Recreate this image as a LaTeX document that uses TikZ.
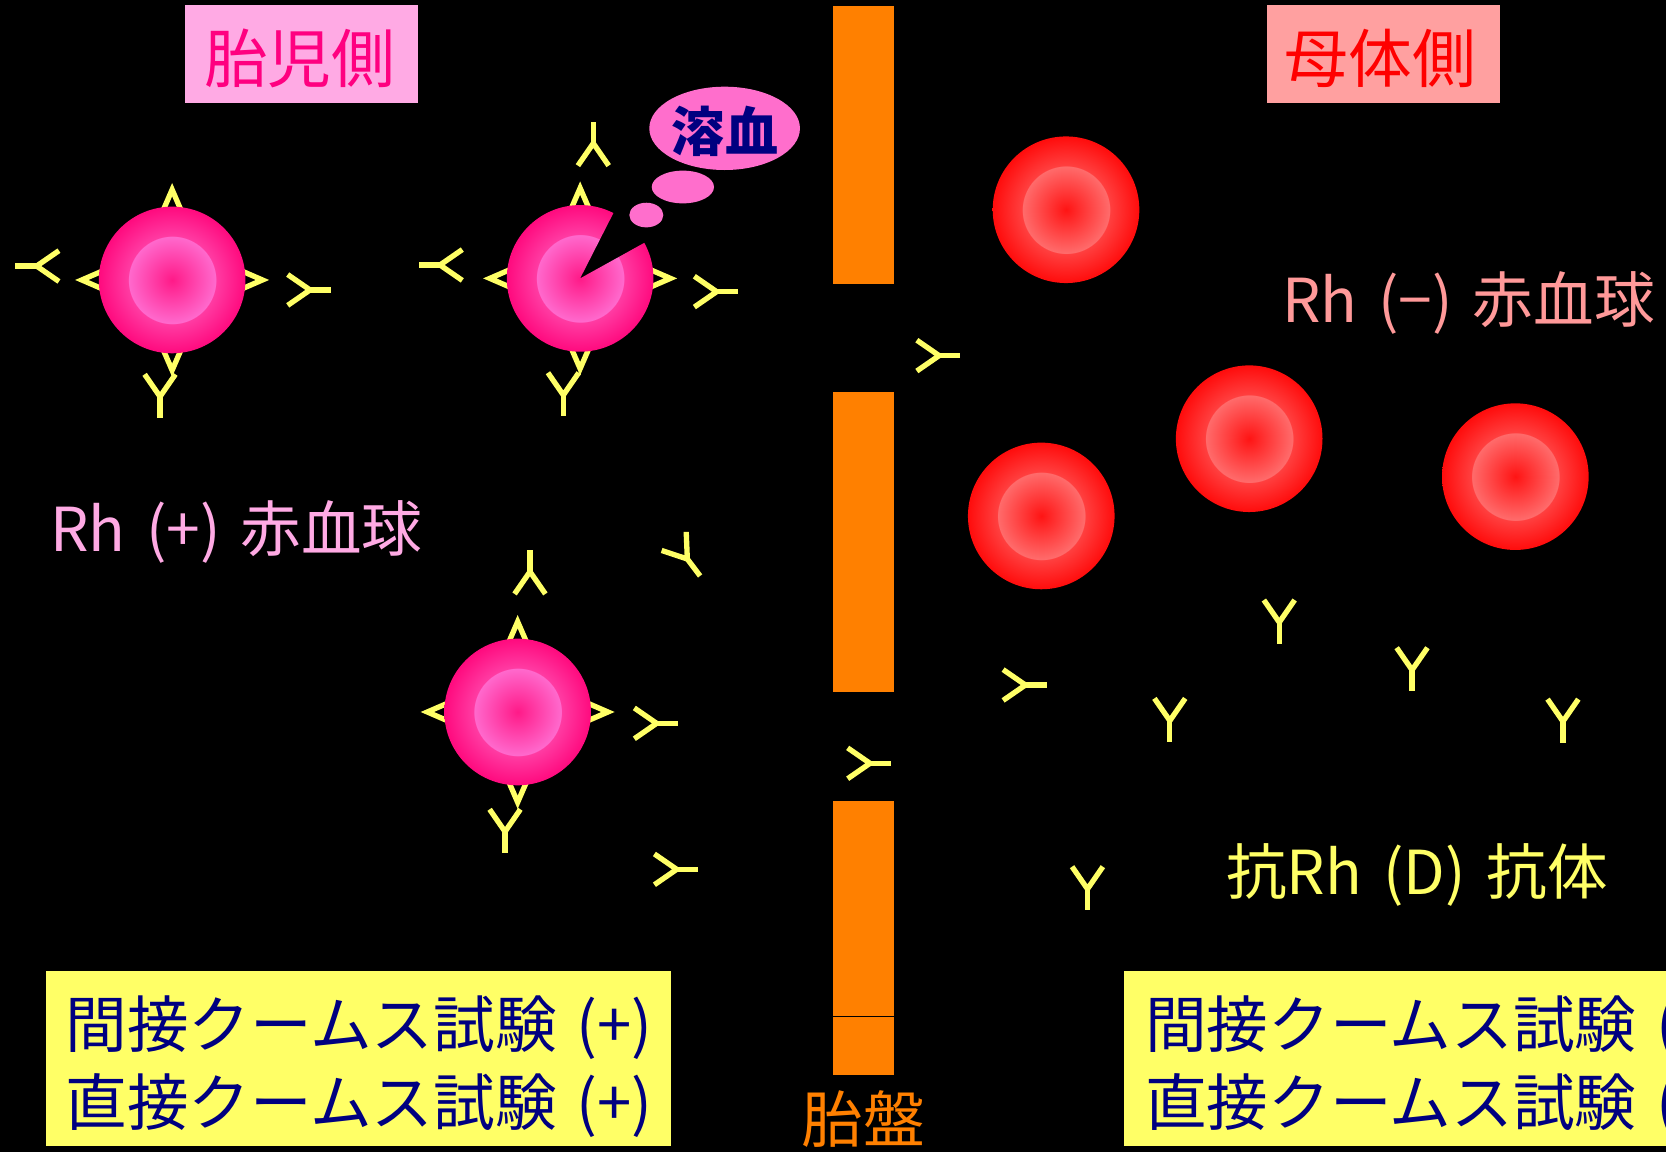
\documentclass[tikz,border=0pt]{standalone}
\usepackage{fontspec}
\setmainfont{Noto Sans CJK JP}

% palette
\definecolor{abyellow}{RGB}{255,255,102}
\definecolor{navyink}{RGB}{0,0,128}
\definecolor{placenta}{RGB}{255,128,0}
\definecolor{fetalbox}{RGB}{255,170,228}
\definecolor{fetalink}{RGB}{255,0,128}
\definecolor{maternalbox}{RGB}{255,160,160}
\definecolor{maternalink}{RGB}{255,0,0}
\definecolor{rhneg}{RGB}{255,153,153}
\definecolor{bubble}{RGB}{255,110,204}
% fetal (Rh+) cell shades
\definecolor{fcA}{RGB}{255,26,136}
\definecolor{fcB}{RGB}{255,105,205}
\definecolor{fcC}{RGB}{255,60,163}
\definecolor{fcD}{RGB}{255,10,126}
% maternal (Rh-) cell shades
\definecolor{rcA}{RGB}{255,20,20}
\definecolor{rcB}{RGB}{255,107,107}
\definecolor{rcC}{RGB}{255,64,64}
\definecolor{rcD}{RGB}{255,12,12}

\pgfdeclareradialshading{fetalcell}{\pgfpoint{0bp}{0bp}}{%
  color(0bp)=(fcA); color(14.8bp)=(fcB); color(14.9bp)=(fcC);
  color(25bp)=(fcD); color(50bp)=(fcD)}
\pgfdeclareradialshading{redcell}{\pgfpoint{0bp}{0bp}}{%
  color(0bp)=(rcA); color(14.8bp)=(rcB); color(14.9bp)=(rcC);
  color(25bp)=(rcD); color(50bp)=(rcD)}

\begin{document}
\begin{tikzpicture}[x=1pt,y=-1pt,
  abline/.style={draw=abyellow, line width=5pt, line join=miter, line cap=butt},
  ab/.pic={\draw[abline] (-14.5,-21) -- (0,0) -- (14.5,-21);
           \draw[abline] (0,-2) -- (0,20);},
  chev/.pic={\draw[abline] (-13,-30) -- (0,0) -- (13,-30);},
  mixed/.style={anchor=base west, inner sep=0pt, font=\fontsize{57}{57}\selectfont},
  head/.style={inner sep=0pt, font=\fontsize{60}{60}\selectfont},
  testline/.style={anchor=base west, inner sep=0pt, text=navyink,
                   font=\fontsize{58}{58}\selectfont},
  ]
\useasboundingbox (0,0) rectangle (1568,1084);
\clip (0,0) rectangle (1568,1084);
\fill[black] (0,0) rectangle (1568,1084);

% cell centres
\coordinate (f1) at (162,263.5);
\coordinate (f2) at (546,262);
\coordinate (f3) at (487.2,670.1);
\coordinate (m1) at (1003.3,197.4);
\coordinate (m2) at (1175.7,412.9);
\coordinate (m3) at (980,485.6);
\coordinate (m4) at (1426.2,448.6);

% headers
\node[fill=fetalbox, minimum width=219pt, minimum height=92pt, inner sep=0pt] (fetalbox) at (283.5,51) {};
\node[head, text=fetalink] (fetaltitle) at (282,54.6) {胎児側};
\node[fill=maternalbox, minimum width=219.4pt, minimum height=92pt, inner sep=0pt] (maternalbox) at (1302.1,50.7) {};
\node[head, text=maternalink] (maternaltitle) at (1299,55) {母体側};

% placenta
\fill[placenta] (784,6) rectangle (841,267);
\fill[placenta] (784,369.3) rectangle (841,651);
\fill[placenta] (784,754) rectangle (841,956);
\fill[placenta] (784,957.4) rectangle (841,1012);
\node[inner sep=0pt, text=placenta, font=\fontsize{58}{58}\selectfont] (placentalabel) at (812.8,1053.3) {胎盤};

% bound antibodies on the fetal cells
\foreach \c in {f1,f2,f3} {
  \pic[rotate=180] at ([yshift=85pt]\c) {chev};
  \pic at ([yshift=-85pt]\c) {chev};
  \pic[rotate=-90] at ([xshift=-85pt]\c) {chev};
  \pic[rotate=90] at ([xshift=85pt]\c) {chev};
}

% fetal Rh(+) cells
\shade[shading=fetalcell] (f1) circle[radius=69pt];
\shade[shading=fetalcell] (f3) circle[radius=69pt];
\begin{scope}
  \clip (f2) -- ++(63:80pt) arc[start angle=63, end angle=389, radius=80pt] -- cycle;
  \shade[shading=fetalcell] (f2) circle[radius=69pt];
\end{scope}

% haemolysis bubble
\fill[bubble] (608.3,202.4) ellipse[x radius=16pt, y radius=11.6pt];
\fill[bubble] (642.7,176) ellipse[x radius=29.3pt, y radius=15.4pt];
\fill[bubble] (682,120.8) ellipse[x radius=70.9pt, y radius=39.2pt];
\node[inner sep=0pt, text=navyink, font=\fontsize{50}{50}\selectfont\bfseries] (hemolysis) at (682.4,124) {溶血};

% maternal Rh(-) cells
\foreach \c in {m1,m2,m3,m4}
  \shade[shading=redcell] (\c) circle[radius=69pt];

% free antibodies
\pic[rotate=-90] at (34.5,250.4) {ab};
\pic[rotate=90] at (291.8,272.9) {ab};
\pic at (150.6,373.3) {ab};
\pic[rotate=180] at (558.4,134.9) {ab};
\pic[rotate=-90] at (414.1,249.4) {ab};
\pic[rotate=90] at (674.5,274.5) {ab};
\pic at (530.2,371.8) {ab};
\pic[rotate=180] at (498.8,538) {ab};
\pic[rotate=90] at (618,680.8) {ab};
\pic at (475.3,782.7) {ab};
\pic[rotate=37] at (646.9,526.1) {ab};
\pic[rotate=90] at (636.9,818.2) {ab};
\pic[rotate=90] at (818.8,718.4) {ab};
\pic[rotate=90] at (883.9,334.7) {ab};
\pic[rotate=90] at (965.1,644.7) {ab};
\pic at (1204,585.7) {ab};
\pic at (1329,630.6) {ab};
\pic at (1101,678.3) {ab};
\pic at (1471,679) {ab};
\pic at (1023.5,836.7) {ab};

% labels
\node[mixed, text=fetalbox] (rhpos) at (47,519.2) {Rh\hspace{7pt} (+)\hspace{6pt} 赤血球};
\node[mixed, text=rhneg] (rhneglabel) at (1206.6,303.7) {Rh\hspace{7pt} (−)\hspace{6pt} 赤血球};
\node[mixed, text=abyellow] (antiD) at (1154,841.7) {抗Rh\hspace{7pt} (D)\hspace{7pt} 抗体};

% Coombs test boxes
\fill[abyellow] (43.3,913.9) rectangle (631.5,1078.6);
\node[testline] (fetalind) at (61.6,986) {間接クームス試験\hspace{6pt} (+)};
\node[testline] (fetaldir) at (61.6,1059) {直接クームス試験\hspace{6pt} (+)};
\fill[abyellow] (1057.4,913.9) rectangle (1600,1078.6);
\node[testline] (matind) at (1077.6,986) {間接クームス試験\hspace{6pt} (};
\node[testline] (matdir) at (1077.6,1059) {直接クームス試験\hspace{6pt} (};
\end{tikzpicture}
\end{document}
